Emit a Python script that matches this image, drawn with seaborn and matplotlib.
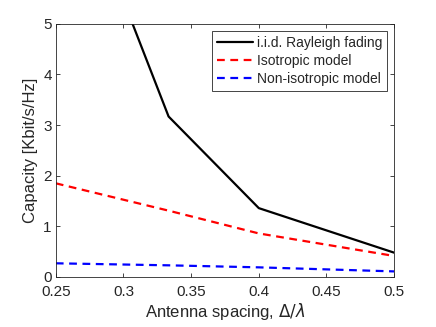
import matplotlib
matplotlib.use("Agg")
import matplotlib.pyplot as plt
import seaborn as sns
import pandas as pd

spacing = [0.25, 1/3, 0.4, 0.5]
iid_rayleigh = [8.9, 3.17, 1.36, 0.48]
isotropic = [1.85, 1.31, 0.86, 0.415]
non_isotropic = [0.27, 0.23, 0.19, 0.11]
series_names = ["i.i.d. Rayleigh fading", "Isotropic model", "Non-isotropic model"]
x_ticks = [0.25, 0.3, 0.35, 0.4, 0.45, 0.5]
x_tick_labels = ["0.25", "0.3", "0.35", "0.4", "0.45", "0.5"]
y_ticks = [0, 1, 2, 3, 4, 5]

sns.set_theme(style="white")
plt.rcParams['font.family'] = ['Liberation Sans', 'DejaVu Sans']
plt.rcParams['mathtext.fontset'] = 'dejavusans'

df = pd.DataFrame({
    "x": spacing * 3,
    "y": iid_rayleigh + isotropic + non_isotropic,
    "series": [series_names[0]] * 4 + [series_names[1]] * 4 + [series_names[2]] * 4,
})

fig = plt.figure(figsize=(4.36, 3.27), dpi=100)
ax = fig.add_axes([0.128, 0.153, 0.776, 0.774])
sns.lineplot(data=df, x="x", y="y", hue="series", style="series",
             palette=["black", "red", "blue"],
             dashes=[(None, None), (3.5, 2.5), (3.5, 2.5)],
             linewidth=1.6, ax=ax, sort=False)
ax.set_xlim(0.25, 0.5)
ax.set_ylim(0, 5)
ax.set_xticks(x_ticks)
ax.set_xticklabels(x_tick_labels)
ax.set_yticks(y_ticks)
ax.tick_params(direction="in", length=3, width=0.6, colors="#262626",
               labelsize=11, top=True, right=True, bottom=True, left=True)
ax.tick_params(axis="x", pad=6)
ax.tick_params(axis="y", pad=3)
for s in ax.spines.values():
    s.set_color("#262626")
    s.set_linewidth(0.6)
ax.set_xlabel(r"Antenna spacing, $\Delta/\lambda$", fontsize=12, color="#262626", labelpad=1)
ax.set_ylabel("Capacity [Kbit/s/Hz]", fontsize=12, color="#262626", labelpad=4)
leg = ax.legend(loc="upper right", fontsize=10, frameon=True, fancybox=False,
                edgecolor="#262626", framealpha=1, borderpad=0.35,
                handlelength=2.6, handletextpad=0.3, labelspacing=0.3,
                borderaxespad=0.5)
leg.get_frame().set_linewidth(0.6)
fig.savefig("out.png", dpi=100)
